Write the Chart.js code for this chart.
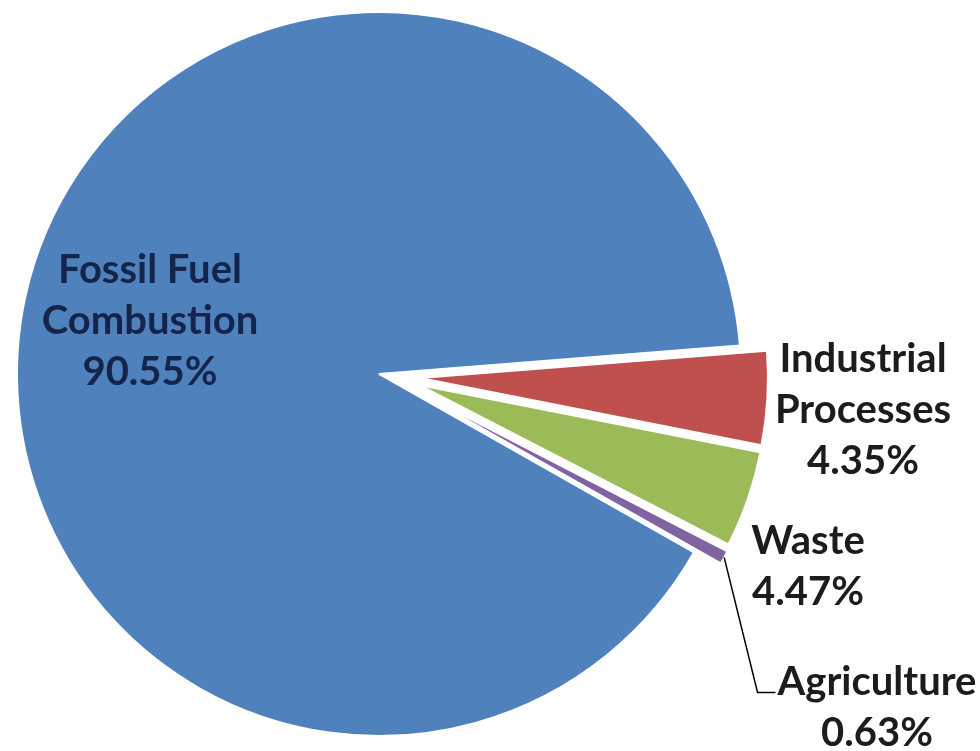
<!DOCTYPE html>
<html>
<head>
<meta charset="utf-8">
<script src="https://cdn.jsdelivr.net/npm/chart.js@4.4.1/dist/chart.umd.min.js"></script>
<style>
    html, body { margin: 0; padding: 0; background: #fff; }
    #wrap { width: 980px; height: 751px; }
</style>
</head>
<body>
<div id="wrap"><canvas id="emissionsChart" width="980" height="751"></canvas></div>
<script>
// slice order follows the reference: drawing starts just above 3 o'clock, clockwise
const categories = ['Industrial Processes', 'Waste', 'Agriculture', 'Fossil Fuel Combustion'];
const labelLines = [['Industrial', 'Processes'], ['Waste'], ['Agriculture'], ['Fossil Fuel', 'Combustion']];
const shares = [4.35, 4.47, 0.63, 90.55];

const sliceColors = ['#C0504D', '#9BBB59', '#8064A2', '#4F81BD'];
// exploded slices: where their tip is pulled to (px from pie centre), and their radius
const explode = [
    { dx: 41, dy: 4, r: 348 },
    { dx: 40, dy: 11, r: 348 },
    { dx: 39, dy: 18, r: 348 },
    null
];

// label block centre, relative to the pie centre
const labelPlace = [
    { dx: 484, dy: 36, color: '#1c1c1c' },
    { dx: 429, dy: 193, color: '#1c1c1c' },
    { dx: 498, dy: 334, color: '#1c1c1c', leader: true },
    { dx: -229, dy: -53, color: '#15244a' }
];

let pieCenter = null;

const explodeSlices = {
    id: 'explodeSlices',
    afterDatasetsUpdate(chart) {
        const arcs = chart.getDatasetMeta(0).data;
        pieCenter = { x: arcs[3].x, y: arcs[3].y };
        arcs.forEach((arc, i) => {
            const e = explode[i];
            if (!e) return;
            arc.x = pieCenter.x + e.dx;
            arc.y = pieCenter.y + e.dy;
            arc.outerRadius = e.r;
        });
    }
};

const sliceLabels = {
    id: 'sliceLabels',
    afterDraw(chart) {
        const ctx = chart.ctx;
        const arcs = chart.getDatasetMeta(0).data;
        const cx = pieCenter.x, cy = pieCenter.y;
        const lineH = 51;
        ctx.save();
        ctx.font = 'bold 40px Lato';
        ctx.textAlign = 'center';
        ctx.textBaseline = 'middle';
        arcs.forEach((arc, i) => {
            const place = labelPlace[i];
            const lines = labelLines[i].concat([shares[i].toFixed(2) + '%']);
            const x = cx + place.dx;
            const top = cy + place.dy - (lines.length - 1) * lineH / 2;
            ctx.fillStyle = place.color;
            lines.forEach((t, k) => ctx.fillText(t, x, top + k * lineH));

            if (place.leader) {
                const mid = (arc.startAngle + arc.endAngle) / 2;
                const sx = arc.x + Math.cos(mid) * arc.outerRadius;
                const sy = arc.y + Math.sin(mid) * arc.outerRadius;
                const left = x - ctx.measureText(lines[0]).width / 2;
                const ly = top + 10;
                ctx.strokeStyle = '#000';
                ctx.lineWidth = 1.5;
                ctx.beginPath();
                ctx.moveTo(sx, sy);
                ctx.lineTo(left - 20, ly);
                ctx.lineTo(left - 2, ly);
                ctx.stroke();
            }
        });
        ctx.restore();
    }
};

const ctx = document.getElementById('emissionsChart').getContext('2d');

new Chart(ctx, {
    type: 'pie',
    data: {
        labels: categories,
        datasets: [{
            data: shares,
            backgroundColor: sliceColors,
            borderColor: '#ffffff',
            borderWidth: 2
        }]
    },
    options: {
        responsive: false,
        animation: false,
        rotation: 85.5,
        radius: 362,
        layout: {
            padding: { left: 0, right: 222, top: 0, bottom: 3 }
        },
        plugins: {
            legend: { display: false },
            tooltip: { enabled: false }
        }
    },
    plugins: [explodeSlices, sliceLabels]
});
</script>
</body>
</html>
